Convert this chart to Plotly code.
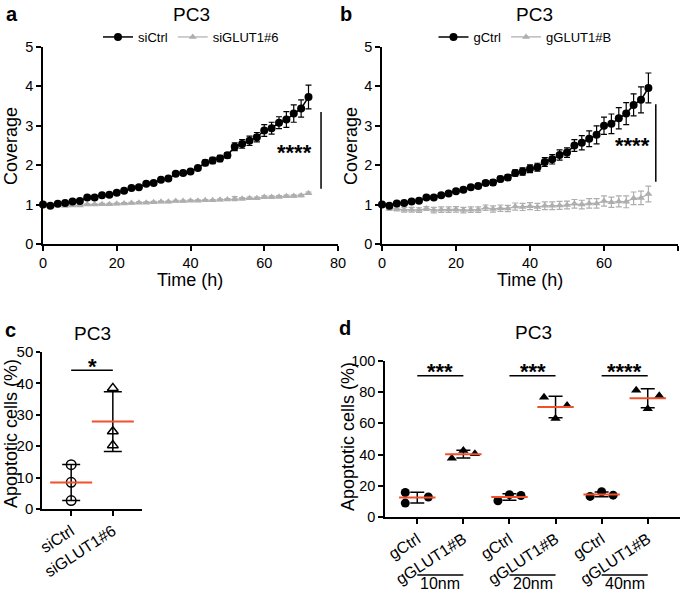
import numpy as np
import plotly.graph_objects as go

# ---------------- data ----------------
time_h = list(range(0, 74, 2))

a_ctrl = [1.00, 0.97, 1.02, 1.04, 1.08, 1.09, 1.18, 1.18, 1.24, 1.25, 1.30, 1.35, 1.42, 1.44,
          1.53, 1.55, 1.63, 1.66, 1.78, 1.80, 1.84, 1.93, 2.06, 2.12, 2.17, 2.25, 2.47, 2.54,
          2.62, 2.71, 2.88, 2.94, 3.08, 3.16, 3.31, 3.44, 3.73]
a_ctrl_err = [0.02, 0.02, 0.02, 0.02, 0.03, 0.03, 0.03, 0.03, 0.03, 0.03, 0.03, 0.03, 0.03, 0.03,
              0.04, 0.04, 0.04, 0.04, 0.04, 0.04, 0.05, 0.05, 0.07, 0.08, 0.08, 0.07, 0.10, 0.11,
              0.12, 0.12, 0.15, 0.15, 0.15, 0.20, 0.22, 0.22, 0.30]
a_kd = [1.00, 0.98, 0.98, 0.97, 0.98, 0.98, 1.00, 1.00, 1.01, 1.01, 1.02, 1.03, 1.04, 1.05,
        1.05, 1.06, 1.07, 1.07, 1.09, 1.09, 1.10, 1.10, 1.11, 1.11, 1.12, 1.13, 1.15, 1.15,
        1.16, 1.16, 1.19, 1.19, 1.20, 1.21, 1.22, 1.23, 1.29]
a_kd_err = [0.02, 0.02, 0.02, 0.03, 0.02, 0.02, 0.02, 0.02, 0.02, 0.02, 0.02, 0.02, 0.02, 0.02,
            0.02, 0.02, 0.02, 0.02, 0.02, 0.02, 0.02, 0.02, 0.02, 0.02, 0.02, 0.02, 0.05, 0.03,
            0.03, 0.03, 0.03, 0.03, 0.03, 0.03, 0.03, 0.03, 0.03]

b_ctrl = [1.00, 0.97, 1.03, 1.04, 1.08, 1.10, 1.18, 1.18, 1.24, 1.28, 1.34, 1.38, 1.44, 1.47,
          1.55, 1.56, 1.65, 1.69, 1.80, 1.84, 1.91, 1.95, 2.08, 2.15, 2.26, 2.32, 2.50, 2.57,
          2.67, 2.77, 3.00, 3.05, 3.19, 3.31, 3.53, 3.66, 3.96]
b_ctrl_err = [0.02, 0.02, 0.03, 0.03, 0.03, 0.03, 0.03, 0.03, 0.04, 0.05, 0.04, 0.05, 0.05, 0.06,
              0.06, 0.07, 0.07, 0.07, 0.08, 0.09, 0.10, 0.10, 0.11, 0.12, 0.13, 0.12, 0.15, 0.18,
              0.20, 0.23, 0.22, 0.25, 0.27, 0.28, 0.28, 0.33, 0.38]
b_kd = [1.00, 0.90, 0.89, 0.87, 0.87, 0.86, 0.90, 0.86, 0.87, 0.87, 0.88, 0.86, 0.87, 0.87,
        0.92, 0.89, 0.91, 0.90, 0.95, 0.94, 0.96, 0.94, 0.97, 0.97, 0.98, 0.99, 1.02, 1.00,
        1.03, 1.03, 1.09, 1.06, 1.08, 1.07, 1.16, 1.17, 1.27]
b_kd_err = [0.02, 0.05, 0.05, 0.06, 0.06, 0.06, 0.05, 0.07, 0.07, 0.07, 0.07, 0.07, 0.07, 0.07,
            0.07, 0.08, 0.08, 0.08, 0.09, 0.09, 0.09, 0.09, 0.10, 0.10, 0.10, 0.10, 0.11, 0.11,
            0.12, 0.12, 0.13, 0.13, 0.14, 0.15, 0.16, 0.17, 0.20]

c_groups = ["siCtrl", "siGLUT1#6"]
c_values = [[14.1, 8.5, 2.7], [38.5, 24.7, 20.3]]

d_groups = ["gCtrl", "gGLUT1#B", "gCtrl", "gGLUT1#B", "gCtrl", "gGLUT1#B"]
d_values = [[15.7, 8.9, 12.8], [37.7, 42.6, 40.6],
            [10.4, 14.3, 13.8], [76.8, 63.2, 71.5],
            [13.2, 16.2, 14.0], [81.3, 69.4, 77.7]]
d_doses = ["10nm", "20nm", "40nm"]
d_sig = ["***", "***", "****"]

# ---------------- style ----------------
FONT = "Liberation Sans, Arial, sans-serif"
BLACK = "#000000"
GRAY = "#AEAEAE"
RED = "#F0502A"
W, H = 685, 592
d_jitter = [[-0.26, -0.26, 0.24], [-0.25, 0.0, 0.25],
            [-0.25, 0.0, 0.25], [-0.25, 0.0, 0.25],
            [-0.25, 0.0, 0.25], [-0.25, 0.0, 0.25]]


def px_x(p):
    return p / W


def px_y(p):
    return 1 - p / H


fig = go.Figure()

# ---- panels a and b: time courses ----
for (xa, ya, leg, ctrl, cerr, kd, kerr, names) in [
    ("x", "y", "legend", a_ctrl, a_ctrl_err, a_kd, a_kd_err, ("siCtrl", "siGLUT1#6")),
    ("x2", "y2", "legend2", b_ctrl, b_ctrl_err, b_kd, b_kd_err, ("gCtrl", "gGLUT1#B")),
]:
    fig.add_trace(go.Scatter(
        x=time_h, y=kd, name=names[1], mode="lines+markers", xaxis=xa, yaxis=ya, legend=leg,
        line=dict(color=GRAY, width=1.2),
        marker=dict(symbol="triangle-up", size=7, color=GRAY),
        error_y=dict(type="data", array=kerr, color=GRAY, thickness=1.2, width=3),
        cliponaxis=False, legendrank=2))
    fig.add_trace(go.Scatter(
        x=time_h, y=ctrl, name=names[0], mode="lines+markers", xaxis=xa, yaxis=ya, legend=leg,
        line=dict(color=BLACK, width=1.5),
        marker=dict(symbol="circle", size=8, color=BLACK),
        error_y=dict(type="data", array=cerr, color=BLACK, thickness=1.2, width=3),
        cliponaxis=False, legendrank=1))

# ---- panel c ----
c_marks = ["circle-open", "triangle-up-open"]
for i, vals in enumerate(c_values):
    m = float(np.mean(vals))
    sd = float(np.std(vals, ddof=1))
    fig.add_trace(go.Scatter(
        x=[i], y=[m], mode="markers", xaxis="x3", yaxis="y3", showlegend=False,
        marker=dict(size=1, color="rgba(0,0,0,0)"),
        error_y=dict(type="data", array=[sd], color=BLACK, thickness=1.5, width=9),
        cliponaxis=False))
    fig.add_trace(go.Scatter(
        x=[i] * len(vals), y=vals, mode="markers", xaxis="x3", yaxis="y3", showlegend=False,
        marker=dict(symbol=c_marks[i], size=9.5, color=BLACK, line=dict(width=1.5)),
        cliponaxis=False))
    fig.add_trace(go.Scatter(
        x=[i], y=[m], mode="markers", xaxis="x3", yaxis="y3", showlegend=False,
        marker=dict(symbol="line-ew", size=30, line=dict(color=RED, width=2)),
        cliponaxis=False))

# ---- panel d ----
for i, vals in enumerate(d_values):
    m = float(np.mean(vals))
    sd = float(np.std(vals, ddof=1))
    sym = "circle" if i % 2 == 0 else "triangle-up"
    fig.add_trace(go.Scatter(
        x=[i], y=[m], mode="markers", xaxis="x4", yaxis="y4", showlegend=False,
        marker=dict(size=1, color="rgba(0,0,0,0)"),
        error_y=dict(type="data", array=[sd], color=BLACK, thickness=1.5, width=7),
        cliponaxis=False))
    fig.add_trace(go.Scatter(
        x=[i + j for j in d_jitter[i]], y=vals, mode="markers", xaxis="x4", yaxis="y4",
        showlegend=False, marker=dict(symbol=sym, size=9, color=BLACK),
        cliponaxis=False))
    fig.add_trace(go.Scatter(
        x=[i], y=[m], mode="markers", xaxis="x4", yaxis="y4", showlegend=False,
        marker=dict(symbol="line-ew", size=26, line=dict(color=RED, width=2)),
        cliponaxis=False))

# ---------------- axes ----------------
ax_common = dict(showline=True, linecolor=BLACK, linewidth=1.5, ticks="outside", ticklen=5,
                 tickwidth=1.5, tickcolor=BLACK, showgrid=False, zeroline=False, automargin=False,
                 tickfont=dict(family=FONT, size=14.5, color=BLACK))
rot_font = dict(family=FONT, size=16, color=BLACK)

fig.update_layout(
    xaxis=dict(domain=[px_x(43), px_x(338)], anchor="y", range=[0, 80], tickvals=[0, 20, 40, 60, 80], **ax_common),
    yaxis=dict(domain=[px_y(244), px_y(47)], anchor="x", range=[0, 5], tickvals=[0, 1, 2, 3, 4, 5], **ax_common),
    xaxis2=dict(domain=[px_x(382), px_x(678)], anchor="y2", range=[0, 80], tickvals=[0, 20, 40, 60, 80], **ax_common),
    yaxis2=dict(domain=[px_y(244), px_y(47)], anchor="x2", range=[0, 5], tickvals=[0, 1, 2, 3, 4, 5], **ax_common),
    xaxis3=dict(domain=[px_x(42), px_x(142)], anchor="y3", range=[-0.7, 1.7], tickvals=[0, 1],
                ticktext=c_groups, tickangle=-33, **{**ax_common, "tickfont": rot_font}),
    yaxis3=dict(domain=[px_y(509), px_y(352)], anchor="x3", range=[0, 50], tickvals=[0, 10, 20, 30, 40, 50],
                **{**ax_common, "ticklen": 4, "tickfont": dict(family=FONT, size=15, color=BLACK)}),
    xaxis4=dict(domain=[px_x(385), px_x(680)], anchor="y4", range=[-0.7, 5.7], tickvals=list(range(6)),
                ticktext=d_groups, tickangle=-33, **{**ax_common, "tickfont": rot_font}),
    yaxis4=dict(domain=[px_y(517), px_y(361)], anchor="x4", range=[0, 100], tickvals=[0, 20, 40, 60, 80, 100], **ax_common),
)

# ---------------- legends ----------------
leg_common = dict(orientation="h", xanchor="center", yanchor="middle", bgcolor="rgba(0,0,0,0)",
                  font=dict(family=FONT, size=13, color=BLACK), itemwidth=30, tracegroupgap=0)
fig.update_layout(
    legend=dict(x=px_x(191), y=px_y(37), **leg_common),
    legend2=dict(x=px_x(525), y=px_y(37), **leg_common),
)

# ---------------- annotations ----------------
ann = []
A = dict(showarrow=False, xanchor="center", yanchor="middle")
# panel letters
for txt, x, y in [("a", 12, 14), ("b", 346, 14), ("c", 10, 330), ("d", 345, 328)]:
    ann.append(dict(text=f"<b>{txt}</b>", x=px_x(x), y=px_y(y), xref="paper", yref="paper",
                    font=dict(family=FONT, size=20, color=BLACK), **A))
# titles
for x, y in [(191, 14), (534, 14), (92, 333), (533, 332)]:
    ann.append(dict(text="PC3", x=px_x(x), y=px_y(y), xref="paper", yref="paper",
                    font=dict(family=FONT, size=19, color=BLACK), **A))
# axis titles
for txt, x, y, ang in [("Coverage", 11, 146, -90), ("Coverage", 351, 146, -90),
                       ("Time (h)", 190, 280, 0), ("Time (h)", 530, 280, 0),
                       ("Apoptotic cells (%)", 11, 434, -90), ("Apoptotic cells (%)", 348, 436, -90)]:
    ann.append(dict(text=txt, x=px_x(x), y=px_y(y), xref="paper", yref="paper", textangle=ang,
                    font=dict(family=FONT, size=18, color=BLACK), **A))

star_font = dict(family=FONT, size=22, color=BLACK)
# panel a/b significance
ann.append(dict(text="<b>****</b>", x=68.3, y=2.33, xref="x", yref="y", font=star_font, **A))
ann.append(dict(text="<b>****</b>", x=67.8, y=2.50, xref="x2", yref="y2", font=star_font, **A))
# panel c
ann.append(dict(text="<b>*</b>", x=0.5, y=45.5, xref="x3", yref="y3", font=star_font, **A))
# panel d
for k, s in enumerate(d_sig):
    ann.append(dict(text=f"<b>{s}</b>", x=2 * k + 0.5, y=93.0, xref="x4", yref="y4", font=star_font, **A))
    ann.append(dict(text=d_doses[k], x=2 * k + 0.5, y=px_y(583.5), xref="x4", yref="paper",
                    font=dict(family=FONT, size=16, color=BLACK), **A))
fig.update_layout(annotations=ann)

shapes = [
    dict(type="line", xref="x", yref="y", x0=75.4, x1=75.4, y0=1.4, y1=3.35, line=dict(color=BLACK, width=1.5)),
    dict(type="line", xref="x2", yref="y2", x0=74.0, x1=74.0, y0=1.58, y1=3.55, line=dict(color=BLACK, width=1.5)),
    dict(type="line", xref="x3", yref="y3", x0=0, x1=1, y0=44.2, y1=44.2, line=dict(color=BLACK, width=1.5)),
]
for k in range(3):
    shapes.append(dict(type="line", xref="x4", yref="y4", x0=2 * k, x1=2 * k + 1, y0=90.6, y1=90.6,
                       line=dict(color=BLACK, width=1.5)))
    shapes.append(dict(type="line", xref="x4", yref="paper", x0=2 * k, x1=2 * k + 1, y0=px_y(575), y1=px_y(575),
                       line=dict(color=BLACK, width=1.5)))
fig.update_layout(shapes=shapes)

fig.update_layout(template="none", width=W, height=H, margin=dict(l=0, r=0, t=0, b=0, pad=0),
                  autosize=False, paper_bgcolor="white", plot_bgcolor="white",
                  font=dict(family=FONT, color=BLACK))

fig.write_html("out.html", config={"displayModeBar": False},
               post_script="document.body.style.margin='0px';document.body.style.overflow='hidden';")
